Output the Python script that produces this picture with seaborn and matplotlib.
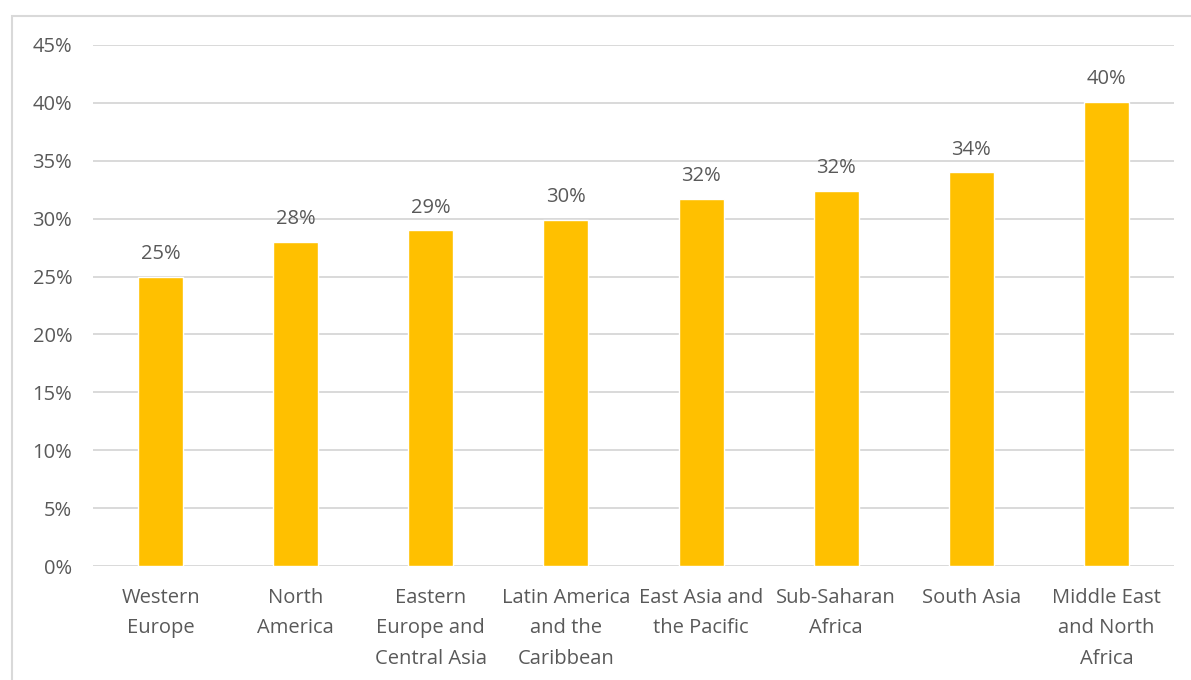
import matplotlib
matplotlib.use("Agg")
import matplotlib.pyplot as plt
import seaborn as sns
import pandas as pd
from matplotlib.patches import Rectangle
from matplotlib.ticker import PercentFormatter

regions = ["Western\nEurope", "North\nAmerica", "Eastern\nEurope and\nCentral Asia",
           "Latin America\nand the\nCaribbean", "East Asia and\nthe Pacific",
           "Sub-Saharan\nAfrica", "South Asia", "Middle East\nand North\nAfrica"]
shares = [0.250, 0.280, 0.290, 0.299, 0.317, 0.324, 0.340, 0.401]
yticks = [0, 0.05, 0.10, 0.15, 0.20, 0.25, 0.30, 0.35, 0.40, 0.45]

sns.set_theme(style="white")
plt.rcParams['font.family'] = ['Open Sans', 'DejaVu Sans']

txt = "#595959"
fs = 14.5
fig = plt.figure(figsize=(11.91, 6.8), dpi=100)
ax = fig.add_axes([93/1191, 1 - 566/680, (1174 - 93)/1191, (566 - 45)/680])

df = pd.DataFrame({"region": regions, "share": shares})
sns.barplot(data=df, x="region", y="share", color="#FFC000", width=0.333,
            saturation=1, ax=ax, zorder=3)

ax.set_ylim(0, 0.45)
ax.set_yticks(yticks)
ax.yaxis.set_major_formatter(PercentFormatter(1.0, decimals=0))
ax.grid(axis="y", color="#d9d9d9", linewidth=1.4, zorder=0)
ax.set_axisbelow(True)
for s in ax.spines.values():
    s.set_visible(False)
ax.set_xlabel("")
ax.set_ylabel("")
ax.tick_params(axis="both", length=0, labelsize=fs, labelcolor=txt)
ax.tick_params(axis="y", pad=15)
ax.tick_params(axis="x", pad=16)
for lbl in ax.get_xticklabels():
    lbl.set_linespacing(1.68)
    lbl.set_verticalalignment("top")

for i, v in enumerate(shares):
    ax.annotate(f"{v*100:.0f}%", (i, v), xytext=(0, 9), textcoords="offset points",
                ha="center", va="bottom", fontsize=fs, color=txt)

fig.add_artist(Rectangle((12/1191, -0.1), 1.2, 1 - 16/680 + 0.1, transform=fig.transFigure,
                         fill=False, edgecolor="#d9d9d9", linewidth=1.5))

fig.savefig("out.png", dpi=100)
